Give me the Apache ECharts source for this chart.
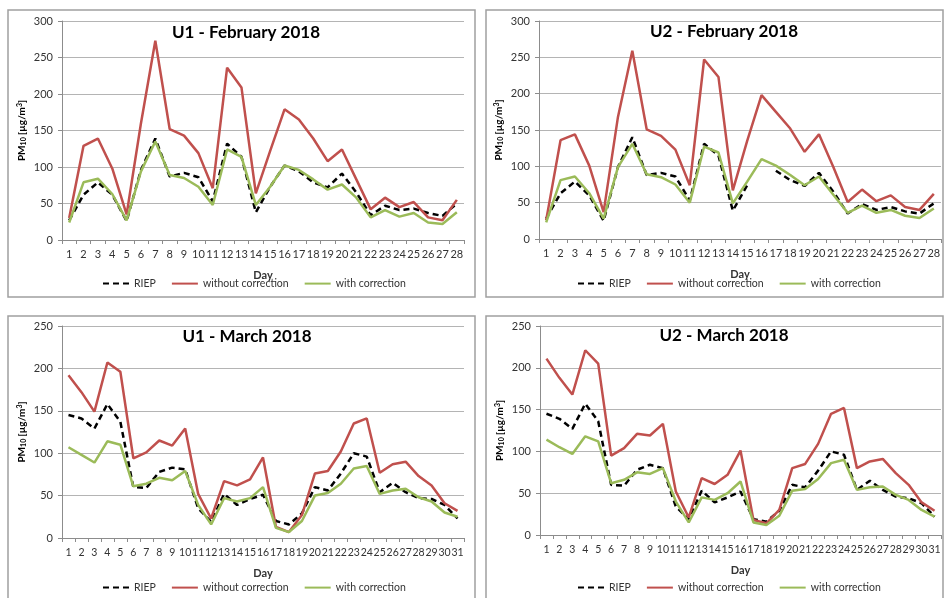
<!DOCTYPE html>
<html>
<head>
<meta charset="utf-8">
<script src="https://cdn.jsdelivr.net/npm/echarts@6/dist/echarts.min.js"></script>
<style>
html,body{margin:0;padding:0;background:#fff;}
#chart{width:944px;height:598px;}
</style>
</head>
<body>
<div id="chart"></div>
<script>
// ---- Data ----
const febDays = Array.from({length: 28}, (_, i) => String(i + 1));
const marDays = Array.from({length: 31}, (_, i) => String(i + 1));

const u1FebRiep = [27,62,79,62,26,96,139,87,92,86,53,132,114,38,73,102,94,79,72,91,65,34,47,41,43,37,33,50];
const u1FebWithout = [30,129,139,98,35,160,273,152,143,119,71,236,209,64,122,179,165,139,108,124,83,42,58,45,52,31,27,55];
const u1FebWith = [24,79,84,63,27,94,135,89,85,73,48,124,114,48,73,102,96,83,69,76,58,31,41,32,37,24,22,38];

const u2FebRiep = [28,63,79,60,25,99,140,88,91,86,53,131,115,39,74,null,94,81,73,91,65,35,48,40,44,38,35,49];
const u2FebWithout = [26,136,144,101,37,168,259,151,142,123,74,247,223,67,135,198,175,152,120,144,99,51,68,52,60,44,40,62];
const u2FebWith = [23,81,86,63,28,99,131,89,85,75,50,127,119,49,79,110,101,88,74,86,61,36,46,36,40,32,29,42];

const u1MarRiep = [145,141,129,158,137,60,59,78,83,81,35,19,52,39,46,51,20,16,29,60,56,76,100,96,54,65,54,47,46,39,23];
const u1MarWithout = [192,172,149,207,196,94,101,115,109,129,52,23,67,62,69,95,13,7,27,76,79,102,135,141,77,87,90,73,62,41,32];
const u1MarWith = [107,98,89,114,110,61,64,71,68,79,39,16,47,43,47,60,12,7,20,50,53,64,82,85,52,56,58,48,43,30,25];

const u2MarRiep = [145,139,127,157,136,60,59,78,84,80,34,19,53,39,45,52,19,16,29,60,57,77,100,96,54,65,54,46,44,38,22];
const u2MarWithout = [211,188,168,221,205,95,104,121,119,133,52,21,68,61,72,101,18,14,30,80,85,109,145,152,80,88,91,74,60,39,29];
const u2MarWith = [114,105,97,118,112,62,66,75,73,80,40,15,45,42,50,64,15,12,23,53,55,67,86,90,54,57,58,48,42,30,22];

const panels = [
  {title: 'U1 - February 2018', cats: febDays, riep: u1FebRiep, without: u1FebWithout, withc: u1FebWith, max: 300},
  {title: 'U2 - February 2018', cats: febDays, riep: u2FebRiep, without: u2FebWithout, withc: u2FebWith, max: 300},
  {title: 'U1 - March 2018', cats: marDays, riep: u1MarRiep, without: u1MarWithout, withc: u1MarWith, max: 250},
  {title: 'U2 - March 2018', cats: marDays, riep: u2MarRiep, without: u2MarWithout, withc: u2MarWith, max: 250}
];

// ---- Layout ----
const FONT = 'Lato, "Open Sans", sans-serif';
const grids = [
  {left: 62, top: 21, width: 402, height: 219},
  {left: 539, top: 21, width: 402, height: 218},
  {left: 62, top: 326, width: 402, height: 212},
  {left: 540, top: 326, width: 401, height: 209}
];
const titlePos = [[241, 19], [719, 18], [242, 323], [719, 322]];
const legendTop = [278, 278, 582, 582];
const legendLeft = [102, 577, 102, 577];
const boxes = [[8, 10, 467, 287], [486, 10, 457, 287], [8, 316, 467, 300], [486, 316, 457, 300]];

const option = {
  backgroundColor: '#fff',
  animation: false,
  title: [], grid: [], xAxis: [], yAxis: [], series: [], legend: [],
  graphic: boxes.map(b => ({
    type: 'rect', shape: {x: b[0], y: b[1], width: b[2], height: b[3]},
    style: {fill: 'none', stroke: '#a0a0a0', lineWidth: 1.5}, silent: true, z: -1
  }))
};

panels.forEach((p, i) => {
  const lblSize = p.cats.length > 28 ? 10.5 : 11;
  option.grid.push(grids[i]);
  option.title.push({
    text: p.title, left: titlePos[i][0], top: titlePos[i][1], textAlign: 'center',
    textStyle: {fontFamily: FONT, fontWeight: 'bold', fontSize: 17, color: '#000'}
  });
  option.xAxis.push({
    type: 'category', gridIndex: i, data: p.cats, boundaryGap: true,
    name: 'Day', nameLocation: 'middle', nameGap: 30,
    nameTextStyle: {fontFamily: FONT, fontWeight: 'bold', fontSize: 11, color: '#333'},
    axisLine: {lineStyle: {color: '#8c8c8c', width: 1}},
    axisTick: {show: true, length: 4, lineStyle: {color: '#8c8c8c'}},
    axisLabel: {interval: 0, fontFamily: FONT, fontSize: lblSize, color: '#333', margin: 9},
    splitLine: {show: false}
  });
  option.yAxis.push({
    type: 'value', gridIndex: i, min: 0, max: p.max, interval: 50,
    name: '{b|PM}{s|10}{b| [µg/m}{u|3}{b|]}', nameLocation: 'middle', nameGap: 35,
    nameTextStyle: {
      rich: {
        b: {fontFamily: FONT, fontWeight: 'bold', fontSize: 10, color: '#000'},
        s: {fontFamily: FONT, fontWeight: 'bold', fontSize: 7, color: '#000', verticalAlign: 'bottom', padding: [4, 0, 0, 0]},
        u: {fontFamily: FONT, fontWeight: 'bold', fontSize: 7, color: '#000', verticalAlign: 'top', padding: [0, 0, 4, 0]}
      }
    },
    axisLine: {show: true, lineStyle: {color: '#8c8c8c', width: 1}},
    axisTick: {show: true, length: 4, lineStyle: {color: '#8c8c8c'}},
    axisLabel: {fontFamily: FONT, fontSize: 11, color: '#333', margin: 9},
    splitLine: {show: true, lineStyle: {color: '#b4b4b4', width: 1}}
  });
  option.series.push(
    {name: 'RIEP', type: 'line', xAxisIndex: i, yAxisIndex: i, data: p.riep, symbol: 'none',
     lineStyle: {color: '#000', width: 2.5, type: [6, 4]}, itemStyle: {color: '#000'}},
    {name: 'without correction', type: 'line', xAxisIndex: i, yAxisIndex: i, data: p.without, symbol: 'none',
     lineStyle: {color: '#C0504D', width: 2.5}, itemStyle: {color: '#C0504D'}},
    {name: 'with correction', type: 'line', xAxisIndex: i, yAxisIndex: i, data: p.withc, symbol: 'none',
     lineStyle: {color: '#9BBB59', width: 2.5}, itemStyle: {color: '#9BBB59'}}
  );
  option.legend.push({
    data: ['RIEP', 'without correction', 'with correction'],
    left: legendLeft[i], top: legendTop[i], width: 360, orient: 'horizontal', padding: 0,
    itemWidth: 26, itemHeight: 14, itemGap: 15, selectedMode: false,
    itemStyle: {opacity: 0},
    textStyle: {fontFamily: FONT, fontSize: 10.5, color: '#333'}
  });
});

const chart = echarts.init(document.getElementById('chart'), null, {renderer: 'canvas'});
chart.setOption(option);
</script>
</body>
</html>
